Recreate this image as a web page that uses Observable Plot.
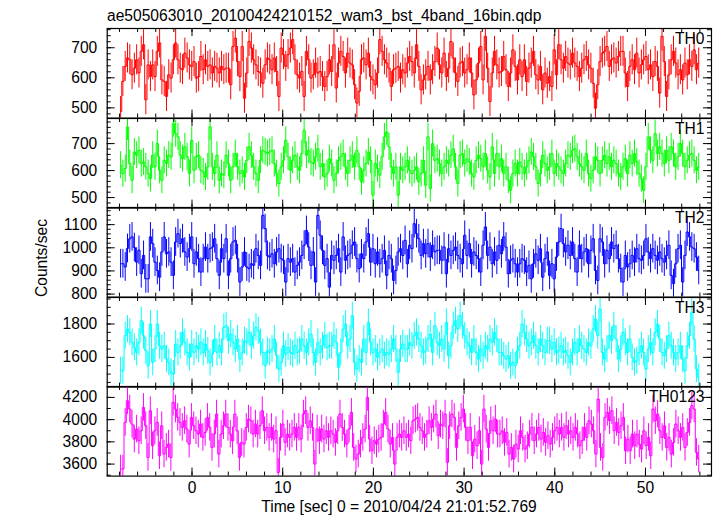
<!DOCTYPE html>
<html><head><meta charset="utf-8">
<script src="https://cdn.jsdelivr.net/npm/d3@7"></script>
<script src="https://cdn.jsdelivr.net/npm/@observablehq/plot@0.6"></script>
<style>
html,body{margin:0;padding:0;background:#fff;}
#chart{position:relative;width:717px;height:516px;background:#fff;overflow:hidden;font-family:"Liberation Sans",Arial,Helvetica,sans-serif;color:#000;}
#chart svg.panel{position:absolute;left:0;}
</style></head>
<body><div id="chart"></div>
<script>
const TITLE = "ae505063010_20100424210152_wam3_bst_4band_16bin.qdp";
const YLABEL = "Counts/sec";
const XLABEL = "Time [sec] 0 = 2010/04/24 21:01:52.769";
const NAMES = ["TH0", "TH1", "TH2", "TH3", "TH0123"];
const T_START = -8, T_END = 56;
const ERR = [50, 50, 62, 81, 124];
const X_TICKS = [0, 10, 20, 30, 40, 50];
const TICKS_TH0 = [500, 600, 700];
const TICKS_TH1 = [500, 600, 700];
const TICKS_TH2 = [800, 900, 1000, 1100];
const TICKS_TH3 = [1600, 1800];
const TICKS_TH0123 = [3600, 3800, 4000, 4200];

const TH0 = [488,588,638,666,660,610,632,660,616,688,
710,527,643,604,643,604,688,716,593,588,
538,610,599,660,716,660,632,627,682,666,
643,638,654,599,604,671,627,660,638,643,
616,638,632,616,638,627,632,632,577,704,
732,654,604,704,532,616,721,699,660,643,
621,616,582,643,666,660,627,666,621,538,
699,677,638,677,699,727,660,610,599,621,
538,688,660,599,610,649,616,621,604,571,
604,660,621,710,566,649,688,671,616,682,
649,643,577,516,555,660,666,643,682,604,
593,577,616,727,688,660,649,632,571,627,
632,638,599,627,
616,649,671,654,616,710,638,560,593,610,
638,593,627,654,699,643,616,682,604,632,
721,666,616,588,649,654,616,627,666,616,
543,593,649,704,593,738,632,521,616,688,
643,616,621,671,627,571,616,693,638,593,
660,604,660,588,632,649,688,610,593,638,
560,616,582,604,571,693,610,710,660,632,
671,649,643,682,649,638,604,632,660,671,
643,632,582,499,577,654,682,688,704,638,
660,666,649,671,688,688,616,571,638,660,
627,682,616,643,660,671,627,643,604,654,
638,549,738,654,538,610,660,688,649,610,
627,593,649,610,660,638,693,627,649];

const TH1 = [620,589,607,762,626,564,669,657,675,626,
632,614,589,570,657,614,700,601,564,638,
626,657,651,774,737,725,657,644,688,651,
589,712,601,651,657,601,595,576,614,762,
614,589,657,564,589,583,657,626,564,614,
663,614,589,601,576,638,688,657,614,589,
564,638,675,669,663,669,675,626,589,552,
614,638,712,651,601,638,657,614,601,663,
749,657,675,632,626,651,681,614,626,576,
589,644,626,564,589,638,651,663,614,589,
638,657,614,675,614,558,601,626,669,638,
509,626,607,583,651,725,743,688,614,589,
614,509,614,601,
614,638,601,589,601,614,558,589,638,546,
725,533,700,638,644,626,589,614,638,626,
657,681,614,552,657,663,626,644,632,589,
576,638,657,644,614,663,601,576,688,589,
663,614,644,589,614,564,527,589,626,589,
632,614,589,614,638,669,651,614,552,589,
657,626,601,614,663,589,626,614,601,589,
626,657,651,675,681,651,626,614,601,663,
589,570,601,651,638,589,638,657,626,651,
614,638,626,589,576,614,644,589,657,626,
663,632,589,570,527,614,725,675,638,737,
663,688,663,626,675,638,688,663,614,651,
700,663,614,638,657,663,638,601,614];

const TH2 = [931,931,917,997,1039,1047,1001,938,989,888,
967,866,866,1047,1018,938,902,873,982,1047,
974,982,938,881,1025,1061,1018,1039,982,960,
996,1047,931,982,953,895,953,1003,953,996,
1003,1039,953,881,996,953,1039,881,953,1025,
1032,953,852,917,982,917,910,931,924,996,
967,924,1140,1083,967,960,974,931,982,996,
953,946,852,953,938,953,895,924,938,967,
1011,1075,1003,924,982,852,1140,1054,989,924,
953,830,967,946,967,996,895,1047,946,967,
974,1011,1025,953,910,974,953,1025,1061,938,
996,931,982,931,953,989,881,967,953,859,
902,982,996,967,
1032,931,1011,996,1104,1061,1039,967,1018,974,
1018,960,1011,982,989,989,946,1003,888,996,
967,989,1003,967,953,931,1054,967,1018,931,
982,967,953,895,1011,1090,967,1003,931,982,
946,1011,974,1047,1003,888,946,953,931,895,
931,953,946,895,924,866,931,974,946,996,
873,953,982,881,931,866,960,1025,1083,1018,
982,1011,967,1025,953,895,1011,953,982,996,
931,989,1039,902,859,1039,1025,931,989,953,
1025,996,1011,953,910,852,967,917,931,967,
938,996,953,946,967,1039,982,953,996,967,
946,982,953,938,967,1011,881,845,931,996,
1011,852,967,1068,1047,1003,996,960,902];

const TH3 = [1520,1520,1730,1770,1750,1690,1660,1630,1690,1820,
1730,1640,1550,1800,1570,1650,1800,1670,1650,1670,
1590,1570,1510,1500,1680,1630,1670,1750,1690,1630,
1600,1680,1630,1670,1650,1690,1630,1680,1640,1570,
1620,1710,1630,1670,1630,1780,1790,1700,1740,1690,
1650,1710,1590,1630,1700,1690,1750,1670,1730,1780,
1760,1690,1630,1550,1640,1630,1650,1710,1610,1530,
1570,1670,1620,1660,1630,1620,1670,1630,1640,1710,
1670,1630,1690,1740,1630,1570,1690,1630,1670,1730,
1660,1670,1670,1730,1690,1540,1630,1770,1800,1670,
1710,1850,1570,1530,1590,1570,1710,1630,1810,1690,
1630,1650,1600,1630,1650,1610,1630,1620,1650,1710,
1650,1510,1650,1680,
1650,1650,1690,1670,1730,1750,1710,1670,1630,1640,
1710,1740,1630,1790,1690,1670,1710,1650,1810,1610,
1670,1790,1820,1770,1850,1790,1730,1690,1670,1630,
1710,1630,1590,1650,1610,1670,1650,1710,1690,1750,
1710,1630,1630,1610,1590,1610,1550,1570,1550,1640,
1670,1800,1750,1710,1670,1690,1730,1670,1630,1710,
1670,1630,1700,1700,1650,1690,1630,1640,1670,1630,
1640,1610,1570,1630,1690,1630,1710,1670,1650,1630,
1690,1670,1770,1830,1730,1890,1630,1590,1650,1730,
1700,1790,1710,1590,1650,1750,1690,1630,1710,1600,
1570,1580,1630,1670,1630,1530,1650,1690,1630,1750,
1800,1710,1630,1610,1650,1730,1670,1630,1590,1630,
1670,1590,1520,1670,1730,1870,1710,1530,1480];

const TH0123 = [3555,3555,3975,4170,4095,3960,3825,3915,3810,3900,
4110,3945,3660,4080,3765,3900,3975,3675,3945,3690,
3750,3780,3660,4155,4095,4020,3975,3930,3990,3915,
3780,4020,3945,3900,3870,3960,3840,3885,4020,3930,
3750,3870,4050,3690,3870,3945,4050,3930,3870,3810,
4050,3900,3660,3795,3780,3930,4005,3990,3870,3960,
3870,3945,4080,3900,3930,3840,3930,3825,3900,3525,
3840,3960,3795,3870,3840,3870,3930,3840,3930,3825,
4050,4080,3930,3990,3930,3600,3915,3810,3915,3825,
3900,3840,3900,3870,3795,3900,4050,3930,3870,3780,
3915,4065,3750,3645,3690,3780,3840,3915,4200,3825,
3720,3810,3780,3825,3840,3960,4065,3915,3780,3840,
3600,3840,3870,3840,
3900,3840,3870,3810,3990,4005,4020,3930,3900,3840,
3870,3990,3930,4005,4050,3855,3960,3945,4050,3615,
3945,4050,4020,3750,3945,4020,4095,3930,3810,3930,
3675,3825,3765,3900,3600,4095,3915,3750,3990,3900,
4005,3870,3870,3900,3795,3885,3690,3750,3645,3780,
3735,3900,3840,3735,3765,3870,3930,3810,3870,3930,
3825,3885,3795,3855,3780,3840,3900,3930,3870,3930,
3840,3945,3870,3900,3840,3930,3870,3765,3810,3930,
3840,3990,3960,3900,3690,4185,3750,3660,4020,4065,
3990,4080,3900,3975,3885,3945,4020,3720,3825,3720,
3870,3765,3870,3780,3735,3900,3765,3840,3675,4095,
3990,4050,3900,3840,3945,3750,3840,3690,3795,3960,
3900,3840,3930,3750,3885,3975,4125,4095,3705,3645];

const SERIES = [TH0, TH1, TH2, TH3, TH0123];
const TICKS = [TICKS_TH0, TICKS_TH1, TICKS_TH2, TICKS_TH3, TICKS_TH0123];

// layout / style
const W = 717;
const FRAME_L = 106.7, FRAME_R = 711;
const TOP0 = 28, PANEL_H = 89.6;
const X_DOMAIN = [-9.35, 57.28];
const COLORS = ["#ff0000", "#00ff00", "#0000ff", "#00ffff", "#ff00ff"];
const Y_DOMAINS = [[466, 764], [461, 793], [787, 1174], [1422, 1959], [3492, 4298]];
const MINOR_STEP = [20, 20, 20, 50, 100];
const FONT = '"Liberation Sans", Arial, Helvetica, sans-serif';
const FS = 15.6;

const chart = document.getElementById("chart");
const innerW = FRAME_R - FRAME_L;

SERIES.forEach((vals, k) => {
  const n = vals.length, dt = (T_END - T_START) / n;
  const rows = vals.map((v, i) => ({t: T_START + (i + 0.5) * dt, v, lo: v - ERR[k], hi: v + ERR[k]}));
  const last = k === SERIES.length - 1;
  const mb = last ? 30 : 0;
  const dom = Y_DOMAINS[k];
  const step = MINOR_STEP[k];
  const minorY = d3.range(Math.ceil(dom[0] / step) * step, dom[1], step);
  const minorX = d3.range(-8, 57, 2);
  const marks = [
    Plot.ruleX(rows, {x: "t", y1: "lo", y2: "hi", stroke: COLORS[k], strokeWidth: 1, clip: true}),
    Plot.lineY(rows, {x: "t", y: "v", curve: "step", stroke: COLORS[k], strokeWidth: 1, clip: true}),
    Plot.tickY(minorY, {y: d => d, insetRight: innerW - 4, stroke: "#000"}),
    Plot.tickY(minorY, {y: d => d, insetLeft: innerW - 4, stroke: "#000"}),
    Plot.tickY(TICKS[k], {y: d => d, insetRight: innerW - 8, stroke: "#000"}),
    Plot.tickY(TICKS[k], {y: d => d, insetLeft: innerW - 8, stroke: "#000"}),
    Plot.tickX(minorX, {x: d => d, insetTop: PANEL_H - 4, stroke: "#000"}),
    Plot.tickX(minorX, {x: d => d, insetBottom: PANEL_H - 4, stroke: "#000"}),
    Plot.tickX(X_TICKS, {x: d => d, insetTop: PANEL_H - 8, stroke: "#000"}),
    Plot.tickX(X_TICKS, {x: d => d, insetBottom: PANEL_H - 8, stroke: "#000"}),
    Plot.frame({stroke: "#000", strokeWidth: 1.2}),
    Plot.axisY({ticks: TICKS[k], tickFormat: "d", anchor: "left", tickSize: 0, tickPadding: 10, label: null, fontSize: FS}),
    Plot.text([NAMES[k]], {frameAnchor: "top-right", dx: -7, dy: 4, lineAnchor: "top", textAnchor: "end", fontSize: FS, fill: "#000"})
  ];
  if (last) marks.push(Plot.axisX({ticks: X_TICKS, tickFormat: "d", anchor: "bottom", tickSize: 0, tickPadding: 6, label: null, fontSize: FS}));
  const p = Plot.plot({
    width: W, height: PANEL_H + mb,
    marginLeft: FRAME_L, marginRight: W - FRAME_R, marginTop: 0, marginBottom: mb,
    x: {domain: X_DOMAIN, axis: last ? undefined : null},
    y: {domain: dom},
    style: {overflow: "visible", background: "transparent", fontFamily: FONT, fontSize: FS + "px", color: "#000"},
    marks
  });
  p.classList.add("panel");
  p.style.top = (TOP0 + k * PANEL_H) + "px";
  chart.appendChild(p);
});

const ov = d3.select(chart).append("svg")
  .attr("width", W).attr("height", 516)
  .style("position", "absolute").style("left", 0).style("top", 0)
  .style("font-family", FONT).style("font-size", FS + "px");
ov.append("text").attr("x", 107).attr("y", 20.7).attr("fill", "#000").text(TITLE);
ov.append("text").attr("transform", "translate(47,258) rotate(-90)").attr("text-anchor", "middle").attr("fill", "#000").text(YLABEL);
ov.append("text").attr("x", 399).attr("y", 512).attr("text-anchor", "middle").attr("fill", "#000").text(XLABEL);
</script>
</body></html>
